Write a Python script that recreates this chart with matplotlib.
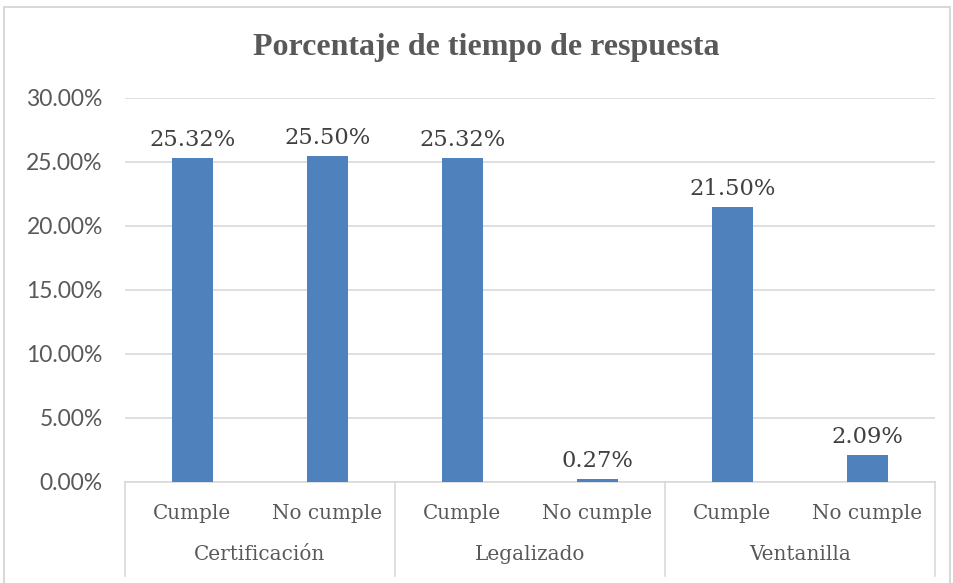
import matplotlib.pyplot as plt
from matplotlib.patches import Rectangle
from matplotlib.transforms import blended_transform_factory

TITLE = 'Porcentaje de tiempo de respuesta'
groups = ['Certificación', 'Legalizado', 'Ventanilla']
subcats = ['Cumple', 'No cumple']
values = [25.32, 25.50, 25.32, 0.27, 21.50, 2.09]
yticks = [0, 5, 10, 15, 20, 25, 30]

BAR = '#4f81bd'
GRID = '#d9d9d9'
TXT = '#595959'
SERIF = 'DejaVu Serif'

W, H = 954, 583
fig = plt.figure(figsize=(W / 100, H / 100), dpi=100)
ax = fig.add_axes([125 / W, 1 - 482 / H, 810 / W, 384 / H])

x = list(range(len(values)))
ax.bar(x, values, width=0.31, color=BAR, zorder=3)
ax.set_xlim(-0.5, len(values) - 0.5)
ax.set_ylim(0, 30)

ax.set_yticks(yticks)
ax.set_yticklabels([f'{v:.2f}%' for v in yticks], family='Lato', fontsize=16.5, color=TXT)
ax.tick_params(axis='y', length=0, pad=16)
ax.set_xticks([])
ax.yaxis.grid(True, color=GRID, linewidth=1.2, zorder=0)
for s in ['top', 'right', 'left']:
    ax.spines[s].set_visible(False)
ax.spines['bottom'].set_color(GRID)
ax.spines['bottom'].set_linewidth(1.2)

# data labels
for xi, v in zip(x, values):
    ax.annotate(f'{v:.2f}%', (xi, v), xytext=(0, 5), textcoords='offset points',
                ha='center', va='bottom', family=SERIF, fontsize=16.3, color='#404040')

# two-level category axis
tr = blended_transform_factory(ax.transData, ax.transAxes)
for i, xi in enumerate(x):
    ax.text(xi, -0.081, subcats[i % 2], transform=tr, ha='center', va='center',
            family=SERIF, fontsize=14.4, color=TXT)
for g, name in enumerate(groups):
    ax.text(2 * g + 0.5, -0.19, name, transform=tr, ha='center', va='center',
            family=SERIF, fontsize=14.4, color=TXT)
for b in [-0.5, 1.5, 3.5, 5.5]:
    ax.plot([b, b], [0, -0.245], transform=tr, color=GRID, linewidth=1.2, clip_on=False)

fig.text(486 / W, 1 - 48 / H, TITLE, ha='center', va='center', family='Liberation Serif',
         fontweight='bold', fontsize=23, color=TXT)

fig.patches.append(Rectangle((4 / W, -0.1), 946 / W, 1 - 7 / H + 0.1, transform=fig.transFigure,
                             fill=False, edgecolor=GRID, linewidth=1.5))

fig.savefig('out.png', dpi=100)
